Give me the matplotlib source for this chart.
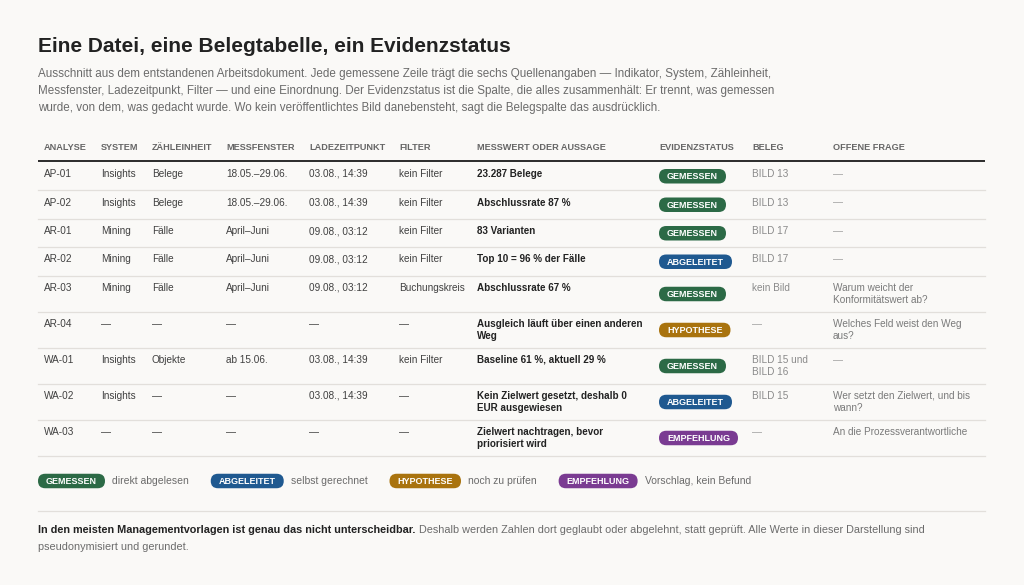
import matplotlib
matplotlib.use('Agg')
import matplotlib.pyplot as plt
from matplotlib.patches import FancyBboxPatch

plt.rcParams['font.family'] = ['Liberation Sans', 'DejaVu Sans']

# ---------------- data ----------------
title = "Eine Datei, eine Belegtabelle, ein Evidenzstatus"
subtitle_lines = [
    "Ausschnitt aus dem entstandenen Arbeitsdokument. Jede gemessene Zeile trägt die sechs Quellenangaben — Indikator, System, Zähleinheit,",
    "Messfenster, Ladezeitpunkt, Filter — und eine Einordnung. Der Evidenzstatus ist die Spalte, die alles zusammenhält: Er trennt, was gemessen",
    "wurde, von dem, was gedacht wurde. Wo kein veröffentlichtes Bild danebensteht, sagt die Belegspalte das ausdrücklich.",
]
headers = ["ANALYSE", "SYSTEM", "ZÄHLEINHEIT", "MESSFENSTER", "LADEZEITPUNKT", "FILTER",
           "MESSWERT ODER AUSSAGE", "EVIDENZSTATUS", "BELEG", "OFFENE FRAGE"]
analyse = ["AP-01", "AP-02", "AR-01", "AR-02", "AR-03", "AR-04", "WA-01", "WA-02", "WA-03"]
system = ["Insights", "Insights", "Mining", "Mining", "Mining", "—", "Insights", "Insights", "—"]
zaehleinheit = ["Belege", "Belege", "Fälle", "Fälle", "Fälle", "—", "Objekte", "—", "—"]
messfenster = ["18.05.–29.06.", "18.05.–29.06.", "April–Juni", "April–Juni", "April–Juni", "—",
               "ab 15.06.", "—", "—"]
ladezeitpunkt = ["03.08., 14:39", "03.08., 14:39", "09.08., 03:12", "09.08., 03:12", "09.08., 03:12",
                 "—", "03.08., 14:39", "03.08., 14:39", "—"]
filter_ = ["kein Filter", "kein Filter", "kein Filter", "kein Filter", "Buchungskreis", "—",
           "kein Filter", "—", "—"]
messwert = ["23.287 Belege", "Abschlussrate 87 %", "83 Varianten", "Top 10 = 96 % der Fälle",
            "Abschlussrate 67 %", "Ausgleich läuft über einen anderen\nWeg",
            "Baseline 61 %, aktuell 29 %", "Kein Zielwert gesetzt, deshalb 0\nEUR ausgewiesen",
            "Zielwert nachtragen, bevor\npriorisiert wird"]
status = ["GEMESSEN", "GEMESSEN", "GEMESSEN", "ABGELEITET", "GEMESSEN", "HYPOTHESE",
          "GEMESSEN", "ABGELEITET", "EMPFEHLUNG"]
beleg = ["BILD 13", "BILD 13", "BILD 17", "BILD 17", "kein Bild", "—", "BILD 15 und\nBILD 16",
         "BILD 15", "—"]
frage = ["—", "—", "—", "—", "Warum weicht der\nKonformitätswert ab?", "Welches Feld weist den Weg\naus?",
         "—", "Wer setzt den Zielwert, und bis\nwann?", "An die Prozessverantwortliche"]
legend_status = ["GEMESSEN", "ABGELEITET", "HYPOTHESE", "EMPFEHLUNG"]
legend_desc = ["direkt abgelesen", "selbst gerechnet", "noch zu prüfen", "Vorschlag, kein Befund"]
footer_bold = "In den meisten Managementvorlagen ist genau das nicht unterscheidbar."
footer_rest = "Deshalb werden Zahlen dort geglaubt oder abgelehnt, statt geprüft. Alle Werte in dieser Darstellung sind"
footer_line2 = "pseudonymisiert und gerundet."

status_colors = {"GEMESSEN": "#2c6a46", "ABGELEITET": "#1f5990",
                 "HYPOTHESE": "#a9730e", "EMPFEHLUNG": "#7a3b92"}

# ---------------- layout ----------------
W, H = 1024, 585
BG = "#faf9f7"
col_x = [44, 101, 152, 226, 309, 399, 477, 659, 752, 833]
left, right = 38, 985

fig = plt.figure(figsize=(W / 100, H / 100), dpi=100, facecolor=BG)
ax = fig.add_axes([0, 0, 1, 1])
ax.set_xlim(0, W)
ax.set_ylim(H, 0)
ax.axis('off')
ax.set_facecolor(BG)
renderer = fig.canvas.get_renderer()


def pill(x_left, yc, label, fs=6.5):
    t = ax.text(0, 0, label, fontsize=fs, weight='bold', color='white',
                va='center', ha='center', zorder=3)
    w = t.get_window_extent(renderer).width
    pw, ph = w + 16, 14.5
    ax.add_patch(FancyBboxPatch((x_left, yc - ph / 2), pw, ph,
                                boxstyle=f"round,pad=0,rounding_size={ph / 2}",
                                fc=status_colors[label], ec='none', zorder=2))
    t.set_position((x_left + pw / 2, yc + 0.3))
    return pw


# title & subtitle
ax.text(left, 47, title, fontsize=15.0, weight='bold', color='#222222', va='center', ha='left')
for i, line in enumerate(subtitle_lines):
    ax.text(left, 74 + 17 * i, line, fontsize=8.4, color='#6b6b6b', va='center', ha='left')

# header
for x, h in zip(col_x, headers):
    ax.text(x, 148, h, fontsize=6.6, weight='bold', color='#666666', va='center', ha='left')
ax.plot([left, right], [161, 161], color='#2b2b2b', lw=1.4, solid_capstyle='butt')

# rows
y = 161.5
line_h = 12
FS = 7.2
FSB = 7.1
cols_plain = [analyse, system, zaehleinheit, messfenster, ladezeitpunkt, filter_]
for r in range(len(analyse)):
    nl = max(s.count("\n") + 1 for s in [messwert[r], beleg[r], frage[r]])
    rh = 28.5 if nl == 1 else 36
    ty = y + 12.5
    for c, col in enumerate(cols_plain):
        ax.text(col_x[c], ty, col[r], fontsize=FS, color='#404040', va='center', ha='left')
    for k, ln in enumerate(messwert[r].split("\n")):
        ax.text(col_x[6], ty + k * line_h, ln, fontsize=FSB, weight='bold', color='#222222',
                va='center', ha='left')
    pill(col_x[7], y + rh / 2 + 0.5, status[r])
    for k, ln in enumerate(beleg[r].split("\n")):
        ax.text(col_x[8], ty + k * line_h, ln, fontsize=FS,
                color='#a0a0a0' if ln == "—" else '#8a8a8a', va='center', ha='left')
    for k, ln in enumerate(frage[r].split("\n")):
        ax.text(col_x[9], ty + k * line_h, ln, fontsize=FS,
                color='#a0a0a0' if ln == "—" else '#7a7a7a', va='center', ha='left')
    y += rh
    ax.plot([left, right], [y, y], color='#e2dfdb', lw=0.9)

# legend
lx = left
for lab, desc in zip(legend_status, legend_desc):
    pw = pill(lx, 481, lab)
    t = ax.text(lx + pw + 7, 481, desc, fontsize=7.5, color='#6b6b6b', va='center', ha='left')
    tw = t.get_window_extent(renderer).width
    lx = lx + pw + 7 + tw + 22

ax.plot([left, right], [511, 511], color='#e2dfdb', lw=0.9)

# footer
tb = ax.text(left, 530, footer_bold, fontsize=7.85, weight='bold', color='#222222', va='center', ha='left')
bw = tb.get_window_extent(renderer).width
ax.text(left + bw + 3.5, 530, footer_rest, fontsize=7.85, color='#6b6b6b', va='center', ha='left')
ax.text(left, 547, footer_line2, fontsize=7.85, color='#6b6b6b', va='center', ha='left')

fig.savefig("out.png", dpi=100, facecolor=BG)
